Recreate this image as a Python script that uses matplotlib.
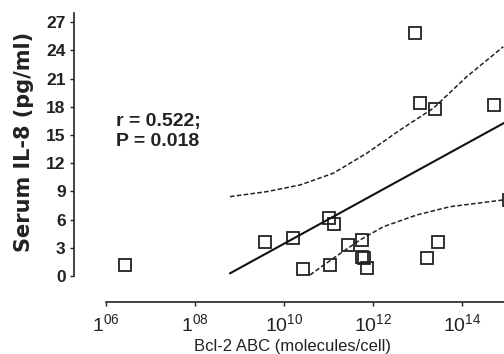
import numpy as np
import matplotlib
matplotlib.use('Agg')
import matplotlib.pyplot as plt

# log10 of Bcl-2 ABC, serum IL-8
bcl2_log = [6.43, 9.57, 10.20, 11.01, 11.12, 10.43, 11.03, 11.44, 11.75, 11.75,
            11.80, 11.87, 12.94, 13.06, 13.39, 14.72, 13.46, 13.21, 15.05]
il8 = [1.17, 3.62, 4.04, 6.17, 5.53, 0.74, 1.17, 3.30, 3.83, 2.02,
       1.91, 0.85, 25.85, 18.4, 17.8, 18.2, 3.62, 1.91, 8.1]

fit_log = [8.79, 14.93]
fit_y = [0.29, 16.24]

upper_log = [8.787, 9.611, 10.36, 11.108, 11.858, 12.607, 13.355, 14.106, 14.928]
upper_y = [8.44, 8.97, 9.68, 10.93, 13.05, 15.53, 17.84, 21.2, 24.39]

lower_log = [10.584, 11.108, 11.708, 12.232, 12.982, 13.73, 14.928]
lower_y = [0.11, 1.88, 3.83, 5.24, 6.49, 7.37, 8.09]

yticks = list(range(0, 28, 3))
xtick_exp = [6, 8, 10, 12, 14]
xtick_labels = [r'$\mathregular{1^{06}}$', r'$\mathregular{1^{08}}$', r'$\mathregular{10^{10}}$',
                r'$\mathregular{10^{12}}$', r'$\mathregular{10^{14}}$']

stat_text = 'r = 0.522;\nP = 0.018'

fig = plt.figure(figsize=(5.04, 3.54), dpi=100)
ax = fig.add_axes([0, 0, 1, 1])
ax.patch.set_alpha(0)

ax.set_xscale('log')
ax.set_xlim(10**3.618, 10**14.944)
ax.set_ylim(-8.30, 29.36)

pw = lambda v: [10**a for a in v]

ax.plot(pw(bcl2_log), il8, 's', ms=9, mfc='none', mec='#222222', mew=1.3)
ax.plot(pw(fit_log), fit_y, color='#111111', lw=1.5)
ax.plot(pw(upper_log), upper_y, color='#222222', lw=1.1, ls=(0, (3, 1.5)))
ax.plot(pw(lower_log), lower_y, color='#222222', lw=1.1, ls=(0, (3, 1.5)))

for s in ['top', 'right']:
    ax.spines[s].set_visible(False)
ax.spines['left'].set_position(('data', 10**5.281))
ax.spines['left'].set_bounds(0, 28.0)
ax.spines['bottom'].set_position(('data', -2.77))
ax.spines['bottom'].set_bounds(1e6, 10**14.944)
for s in ['left', 'bottom']:
    ax.spines[s].set_linewidth(1.2)
    ax.spines[s].set_color('#222222')

ax.set_yticks(yticks)
ax.set_yticklabels([str(v) for v in yticks], fontfamily='Liberation Sans',
                   fontweight='bold', fontsize=12.5)
ax.tick_params(axis='y', direction='out', length=3, width=1, pad=3, colors='#222222')

ax.set_xticks([10.0**e for e in xtick_exp])
ax.set_xticklabels(xtick_labels, fontfamily='Liberation Sans', fontsize=14)
ax.xaxis.set_minor_locator(matplotlib.ticker.NullLocator())
ax.tick_params(axis='x', direction='out', length=3, width=1, pad=5, colors='#222222')

ax.text(116/504, 1 - 113/354, stat_text, transform=ax.transAxes, ha='left', va='top',
        fontfamily='Liberation Sans', fontweight='bold', fontsize=14, color='#222222',
        linespacing=1.2)

fig.text(24/504, 1 - 142/354, 'Serum IL-8 (pg/ml)', rotation=90, ha='center', va='center',
         fontfamily='DejaVu Sans', fontweight='bold', fontsize=15, color='#222222')
fig.text(292/504, 1 - 351/354, 'Bcl-2 ABC (molecules/cell)', ha='center', va='baseline',
         fontfamily='Liberation Sans', fontsize=12, color='#222222')

fig.savefig('out.png', dpi=100)
